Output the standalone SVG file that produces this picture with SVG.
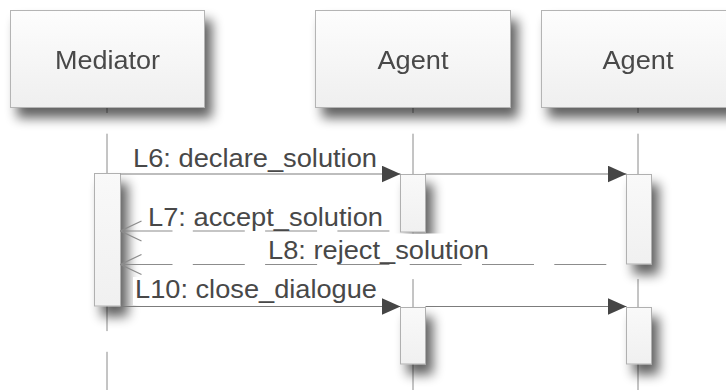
<svg xmlns="http://www.w3.org/2000/svg" width="726" height="390" viewBox="0 0 726 390">
  <style>
    .head { fill: url(#boxFill); stroke: #b4b4b4; stroke-width: 1; }
    .act { fill: url(#actFill); stroke: #b0b0b0; stroke-width: 1; }
    .life { stroke: #8a8a8a; stroke-width: 1; fill: none; stroke-dasharray: 52 20.7; }
    .msg { stroke: #7c7c7c; stroke-width: 1.2; fill: none; }
    .ret { stroke: #8c8c8c; stroke-width: 1.2; fill: none; stroke-dasharray: 52 20.3; }
    .lbl { font-family: "Liberation Sans", Arial, sans-serif; font-size: 26px; fill: #484848; }
    .bg { fill: #ffffff; }
  </style>
  <defs>
    <linearGradient id="boxFill" x1="0" y1="0" x2="0" y2="1">
      <stop offset="0" stop-color="#fdfdfd"/>
      <stop offset="1" stop-color="#efefef"/>
    </linearGradient>
    <linearGradient id="actFill" x1="0" y1="0" x2="0" y2="1">
      <stop offset="0" stop-color="#f9f9f9"/>
      <stop offset="1" stop-color="#f0f0f0"/>
    </linearGradient>
    <filter id="shadow" x="-50%" y="-25%" width="200%" height="170%">
      <feGaussianBlur in="SourceAlpha" stdDeviation="6"/>
      <feOffset dx="7" dy="10" result="off"/>
      <feComponentTransfer>
        <feFuncA type="linear" slope="0.62"/>
      </feComponentTransfer>
      <feMerge>
        <feMergeNode/>
        <feMergeNode in="SourceGraphic"/>
      </feMerge>
    </filter>
    <!-- filled head for synchronous calls -->
    <marker id="solid" viewBox="0 0 19 17" refX="19" refY="8.5" markerWidth="19" markerHeight="17" markerUnits="userSpaceOnUse" orient="auto">
      <path d="M0,0 L19,8.5 L0,17 z" fill="#454545"/>
    </marker>
    <!-- open head for replies, placed at path start -->
    <marker id="open" viewBox="-1 -1 23 22" refX="0" refY="10" markerWidth="23" markerHeight="22" markerUnits="userSpaceOnUse" orient="auto">
      <path d="M21,0 L0,10 L21,20" fill="none" stroke="#8c8c8c" stroke-width="1.2"/>
    </marker>
  </defs>

  <!-- lifelines -->
  <g id="lifelines">
    <line class="life" x1="107" y1="108" x2="107" y2="390" stroke-dashoffset="47"/>
    <line class="life" x1="413" y1="108" x2="413" y2="390" stroke-dashoffset="47"/>
    <line class="life" x1="638" y1="108" x2="638" y2="390" stroke-dashoffset="47"/>
  </g>

  <!-- participant heads -->
  <g id="mediator" filter="url(#shadow)">
    <rect class="head" x="10.5" y="10.5" width="194" height="97"/>
    <text class="lbl" x="107.5" y="68.5" text-anchor="middle" textLength="105" lengthAdjust="spacingAndGlyphs">Mediator</text>
  </g>
  <g id="agent1" filter="url(#shadow)">
    <rect class="head" x="315.5" y="10.5" width="195" height="97"/>
    <text class="lbl" x="413" y="68.5" text-anchor="middle" textLength="71" lengthAdjust="spacingAndGlyphs">Agent</text>
  </g>
  <g id="agent2" filter="url(#shadow)">
    <rect class="head" x="541.5" y="10.5" width="195" height="97"/>
    <text class="lbl" x="638" y="68.5" text-anchor="middle" textLength="71" lengthAdjust="spacingAndGlyphs">Agent</text>
  </g>

  <!-- activation bars -->
  <g id="activations" filter="url(#shadow)">
    <rect id="act-mediator" class="act" x="94.5" y="173.5" width="26" height="132.5"/>
    <rect id="act-agent1-a" class="act" x="400.5" y="174.5" width="25" height="57.5"/>
    <rect id="act-agent2-a" class="act" x="626.5" y="174.5" width="25" height="89.5"/>
    <rect id="act-agent1-b" class="act" x="400.5" y="307.5" width="25" height="56.5"/>
    <rect id="act-agent2-b" class="act" x="626.5" y="307.5" width="25" height="56.5"/>
  </g>

  <!-- messages -->
  <g id="connectors">
    <line class="msg" x1="120.5" y1="174" x2="400.5" y2="174" marker-end="url(#solid)"/>
    <line class="msg" x1="425.5" y1="174" x2="626.5" y2="174" marker-end="url(#solid)"/>
    <text class="lbl" x="133" y="166.5" textLength="244" lengthAdjust="spacingAndGlyphs">L6: declare_solution</text>

    <path class="ret" d="M120.5,231 H400.5" marker-start="url(#open)"/>
    <text class="lbl" x="148" y="225.5" textLength="235" lengthAdjust="spacingAndGlyphs">L7: accept_solution</text>

    <rect class="bg" x="264" y="233.5" width="229" height="28"/>
    <path class="ret" d="M120.5,264.5 H626.5" marker-start="url(#open)"/>
    <text class="lbl" x="268" y="258.5" textLength="221" lengthAdjust="spacingAndGlyphs">L8: reject_solution</text>

    <rect class="bg" x="133" y="277" width="248" height="28"/>
    <line class="msg" x1="120.5" y1="306.5" x2="400.5" y2="306.5" marker-end="url(#solid)"/>
    <line class="msg" x1="425.5" y1="306.5" x2="626.5" y2="306.5" marker-end="url(#solid)"/>
    <text class="lbl" x="135" y="298" textLength="242" lengthAdjust="spacingAndGlyphs">L10: close_dialogue</text>
  </g>
</svg>
